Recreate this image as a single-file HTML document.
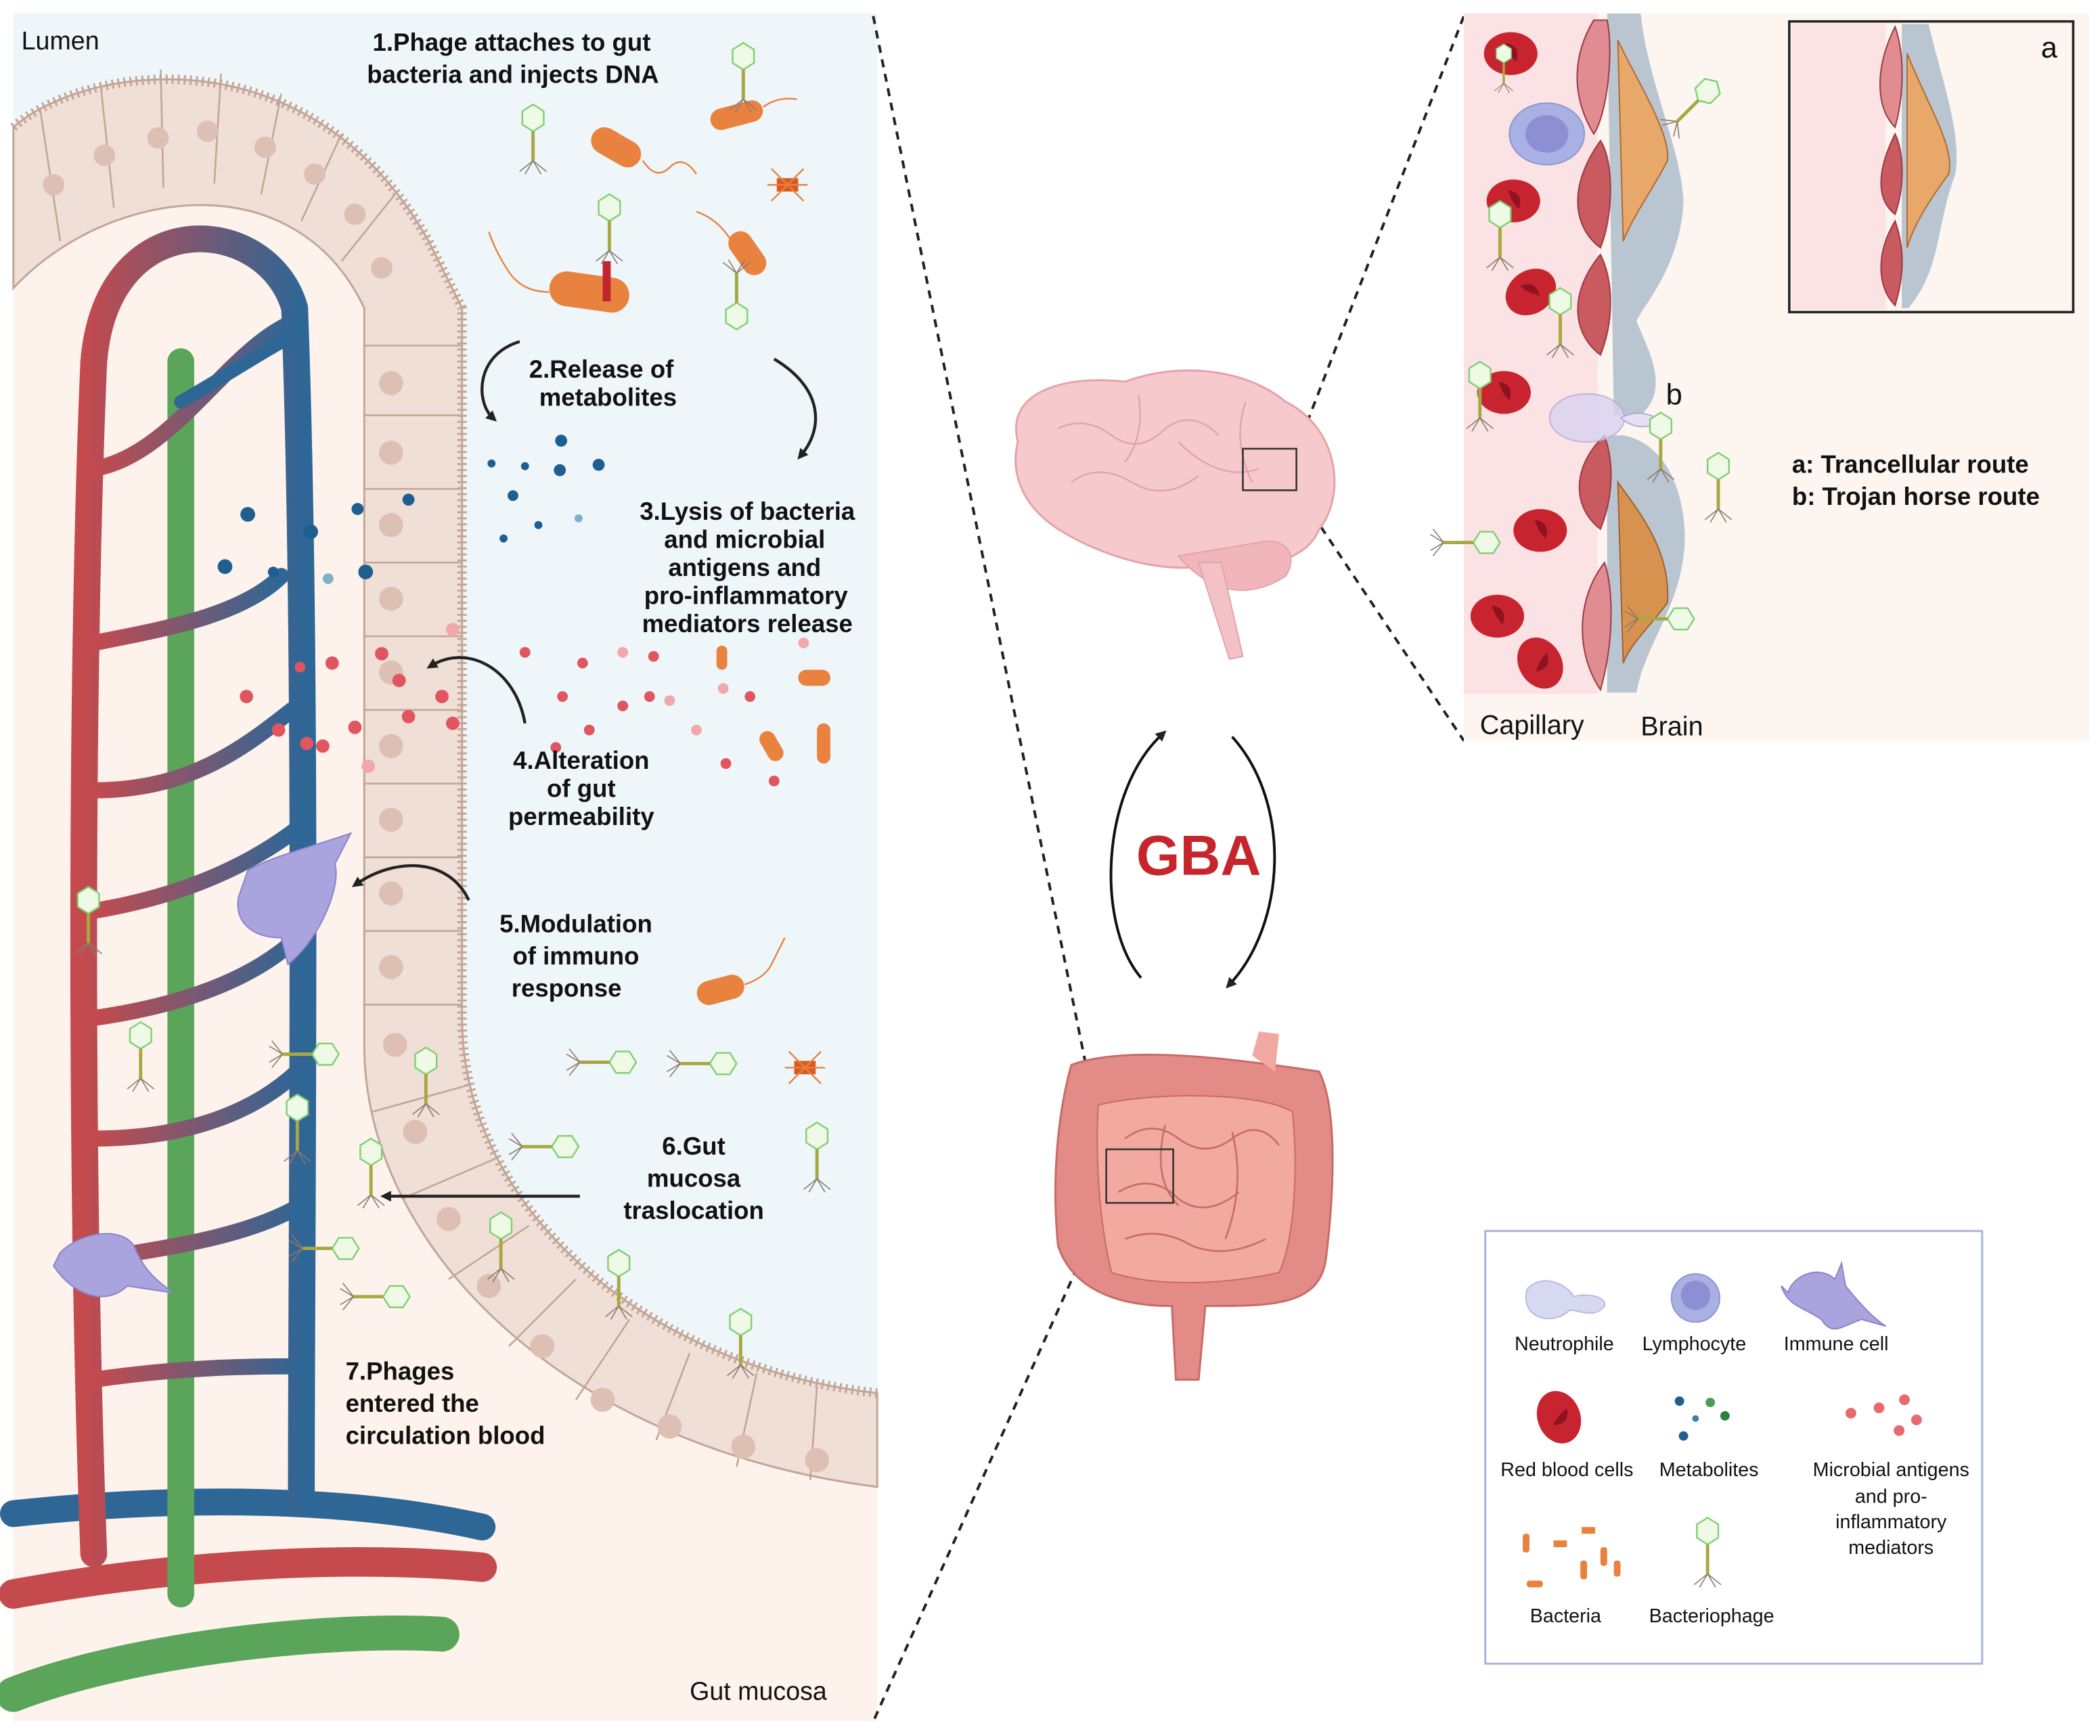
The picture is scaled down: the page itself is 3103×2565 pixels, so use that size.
<!DOCTYPE html>
<html><head><meta charset="utf-8"><style>
html,body{margin:0;padding:0;background:#fff}
svg{display:block}
text{font-family:"Liberation Sans",Arial,sans-serif}
</style></head><body>
<svg width="3103" height="2565" viewBox="0 0 1568 1296" preserveAspectRatio="none" xmlns="http://www.w3.org/2000/svg">
<defs>
<marker id="ah" markerWidth="8" markerHeight="8" refX="4" refY="4" orient="auto" markerUnits="userSpaceOnUse" viewBox="0 0 8 8"><path d="M0,0 L8,4 L0,8 Z" fill="#222"/></marker>
<linearGradient id="rb" x1="0" x2="1"><stop offset="0" stop-color="#c44a4e"/><stop offset="1" stop-color="#2e6696"/></linearGradient>
<g id="ph"><polygon points="0,-10 8,-5 8,5 0,10 -8,5 -8,-5" fill="#eef9e6" stroke="#7fcf72" stroke-width="1.2"/><line x1="0" y1="10" x2="0" y2="32" stroke="#a9a840" stroke-width="2.5"/><path d="M0,32 l-10,8 M0,32 l10,8 M0,32 l-6,10 M0,32 l6,10" stroke="#8a7a6a" stroke-width="0.8" fill="none"/></g>
<g id="rbc"><ellipse rx="20" ry="16" fill="#c8242f"/><path d="M-4,-8 q12,2 8,14 q-6,-6 -8,-14z" fill="#8e1220"/></g>
</defs>

<rect width="1568" height="1296" fill="#fff"/>

<!-- LEFT PANEL -->
<rect x="10" y="10" width="645" height="1275" fill="#fdf3ec"/>
<path d="M10,10 L655,10 L655,1040 C480,1020 345,900 345,760 L345,230 L320,180 C230,20 60,50 10,95 Z" fill="#eef6fa"/>
<!-- epithelium band -->
<path d="M10,95 C60,50 230,20 320,180 L345,230 L345,760 C345,900 480,1020 655,1040 L655,1110 C420,1080 272,930 272,780 L272,230 C220,120 80,140 10,215 Z" fill="#efdfd6" stroke="#c3a596" stroke-width="1.5"/>
<!-- microvilli -->
<path d="M10,95 C60,50 230,20 320,180 L345,230 L345,760 C345,900 480,1020 655,1040" fill="none" stroke="#c3a596" stroke-width="7" stroke-dasharray="1.5 3"/>
<g stroke="#c3a596" stroke-width="1.3">
<line x1="30" y1="82" x2="45" y2="180"/><line x1="75" y1="62" x2="85" y2="155"/><line x1="120" y1="52" x2="122" y2="140"/><line x1="165" y1="55" x2="160" y2="137"/><line x1="210" y1="70" x2="195" y2="145"/><line x1="255" y1="100" x2="225" y2="165"/><line x1="295" y1="145" x2="255" y2="195"/>
</g>
<g stroke="#c3a596" stroke-width="1.3">
<line x1="272" y1="258" x2="345" y2="258"/><line x1="272" y1="310" x2="345" y2="310"/><line x1="272" y1="365" x2="345" y2="365"/><line x1="272" y1="420" x2="345" y2="420"/><line x1="272" y1="475" x2="345" y2="475"/><line x1="272" y1="530" x2="345" y2="530"/><line x1="272" y1="585" x2="345" y2="585"/><line x1="272" y1="640" x2="345" y2="640"/><line x1="272" y1="695" x2="345" y2="695"/><line x1="272" y1="750" x2="345" y2="750"/>
<line x1="278" y1="830" x2="350" y2="810"/><line x1="300" y1="895" x2="370" y2="865"/><line x1="335" y1="955" x2="395" y2="915"/><line x1="380" y1="1005" x2="430" y2="955"/><line x1="430" y1="1045" x2="470" y2="985"/><line x1="490" y1="1075" x2="515" y2="1010"/><line x1="550" y1="1095" x2="565" y2="1025"/><line x1="605" y1="1105" x2="610" y2="1035"/>
</g>
<g fill="#ddbfb3">
<circle cx="40" cy="138" r="8"/><circle cx="78" cy="116" r="8"/><circle cx="118" cy="103" r="8"/><circle cx="155" cy="98" r="8"/><circle cx="198" cy="110" r="8"/><circle cx="235" cy="130" r="8"/><circle cx="265" cy="160" r="8"/><circle cx="285" cy="200" r="8"/>
<circle cx="292" cy="286" r="9"/><circle cx="292" cy="338" r="9"/><circle cx="292" cy="392" r="9"/><circle cx="292" cy="447" r="9"/><circle cx="292" cy="502" r="9"/><circle cx="292" cy="557" r="9"/><circle cx="292" cy="612" r="9"/><circle cx="292" cy="667" r="9"/><circle cx="292" cy="722" r="9"/><circle cx="295" cy="780" r="9"/>
<circle cx="310" cy="845" r="9"/><circle cx="335" cy="910" r="9"/><circle cx="365" cy="960" r="9"/><circle cx="405" cy="1005" r="9"/><circle cx="450" cy="1045" r="9"/><circle cx="500" cy="1065" r="9"/><circle cx="555" cy="1080" r="9"/><circle cx="610" cy="1090" r="9"/>
</g>

<!-- vessels -->
<g fill="none" stroke-linecap="round">
<path d="M10,1190 C120,1170 250,1160 360,1170" stroke="#c44a4e" stroke-width="22"/>
<path d="M10,1130 C150,1115 270,1120 360,1140" stroke="#2e6696" stroke-width="20"/>
<path d="M10,1265 C100,1230 250,1215 330,1220" stroke="#5aa55a" stroke-width="26"/>
<path d="M135,1190 L135,270" stroke="#5aa55a" stroke-width="20"/>
<path d="M70,1160 C60,900 60,500 70,270 C80,150 200,160 220,230 C230,500 225,900 225,1120" stroke="url(#rb)" stroke-width="20"/>
<path d="M70,350 C130,340 170,260 220,240" stroke="url(#rb)" stroke-width="12"/>
<path d="M70,480 C120,470 180,460 210,430" stroke="url(#rb)" stroke-width="12"/>
<path d="M70,590 C140,590 180,560 218,530" stroke="url(#rb)" stroke-width="12"/>
<path d="M70,680 C130,670 180,650 220,620" stroke="url(#rb)" stroke-width="12"/>
<path d="M70,760 C140,750 190,730 222,700" stroke="url(#rb)" stroke-width="12"/>
<path d="M70,850 C140,850 190,830 222,800" stroke="url(#rb)" stroke-width="12"/>
<path d="M70,940 C140,930 190,920 224,900" stroke="url(#rb)" stroke-width="12"/>
<path d="M70,1030 C140,1020 190,1020 225,1020" stroke="url(#rb)" stroke-width="12"/>
<path d="M135,300 C170,280 200,260 220,250" stroke="#2e6696" stroke-width="10"/>
</g>
<!-- immune cells -->
<g fill="#a9a3de" stroke="#8a84c8" stroke-width="1">
<path d="M185,650 C200,640 240,630 262,622 L250,645 C255,660 240,700 215,720 L210,700 C190,700 175,690 178,670 Z"/>
<path d="M45,935 C60,920 90,915 100,930 C110,955 125,960 128,965 L95,960 C80,975 55,968 40,945Z"/>
</g>
<!-- metabolites -->
<g fill="#1f5f8f">
<circle cx="419" cy="329" r="4.5"/><circle cx="447" cy="347" r="4.5"/><circle cx="418" cy="351" r="4.5"/><circle cx="383" cy="370" r="4"/><circle cx="367" cy="346" r="3"/><circle cx="185" cy="384" r="5.5"/><circle cx="232" cy="397" r="5.5"/><circle cx="168" cy="423" r="5.5"/><circle cx="273" cy="427" r="5.5"/><circle cx="305" cy="373" r="4.5"/><circle cx="267" cy="380" r="4.5"/><circle cx="392" cy="348" r="3"/><circle cx="402" cy="392" r="3"/><circle cx="376" cy="402" r="3"/><circle cx="204" cy="427" r="4"/>
</g>
<g fill="#7fb0c8"><circle cx="432" cy="387" r="3"/><circle cx="245" cy="432" r="4"/></g>
<!-- antigens -->
<g fill="#e05560">
<circle cx="184" cy="520" r="5"/><circle cx="229" cy="555" r="5"/><circle cx="208" cy="545" r="5"/><circle cx="265" cy="543" r="5"/><circle cx="241" cy="557" r="5"/><circle cx="298" cy="508" r="5"/><circle cx="330" cy="520" r="5"/><circle cx="338" cy="540" r="5"/><circle cx="248" cy="495" r="5"/><circle cx="285" cy="488" r="5"/><circle cx="224" cy="498" r="4"/><circle cx="305" cy="535" r="5"/><circle cx="420" cy="520" r="4"/><circle cx="440" cy="545" r="4"/><circle cx="465" cy="527" r="4"/><circle cx="435" cy="495" r="4"/><circle cx="488" cy="490" r="4"/><circle cx="485" cy="520" r="4"/><circle cx="415" cy="558" r="4"/><circle cx="542" cy="570" r="4"/><circle cx="578" cy="583" r="4"/><circle cx="560" cy="520" r="4"/><circle cx="392" cy="487" r="4"/>
</g>
<g fill="#f0a8ac"><circle cx="275" cy="572" r="5"/><circle cx="520" cy="545" r="4"/><circle cx="540" cy="514" r="4"/><circle cx="465" cy="487" r="4"/><circle cx="500" cy="523" r="4"/><circle cx="600" cy="480" r="4"/><circle cx="338" cy="470" r="5"/></g>
<!-- bacteria -->
<g fill="#e8823e">
<rect x="440" y="100" width="40" height="20" rx="10" transform="rotate(30 460 110)"/>
<rect x="530" y="78" width="40" height="16" rx="8" transform="rotate(-15 550 86)"/>
<rect x="410" y="205" width="60" height="26" rx="13" transform="rotate(8 440 218)"/>
<rect x="540" y="180" width="36" height="18" rx="9" transform="rotate(55 558 189)"/>
<rect x="520" y="730" width="36" height="18" rx="9" transform="rotate(-15 538 739)"/>
<rect x="580" y="133" width="16" height="10" fill="#d85a20"/>
<rect x="593" y="792" width="16" height="10" fill="#d85a20"/>
<rect x="596" y="500" width="24" height="12" rx="6"/><rect x="610" y="540" width="10" height="30" rx="5"/><rect x="570" y="545" width="12" height="24" rx="6" transform="rotate(-30 576 557)"/><rect x="535" y="482" width="8" height="18" rx="4"/>
</g>
<g fill="none" stroke="#e8823e" stroke-width="1.2">
<path d="M480,120 q10,15 20,5 q10,-10 20,5"/><path d="M570,80 q10,-8 25,-6"/><path d="M410,218 q-20,0 -30,-15 q-10,-15 -15,-30"/><path d="M545,178 q-10,-15 -25,-20"/><path d="M556,735 q15,-5 20,-15 q5,-10 10,-20"/>
<path d="M588,138 l-12,-12 M588,138 l12,-12 M588,138 l-12,12 M588,138 l12,12 M588,138 l-15,0 M588,138 l15,0"/>
<path d="M601,797 l-12,-12 M601,797 l12,-12 M601,797 l-12,12 M601,797 l12,12 M601,797 l-15,0 M601,797 l15,0"/>
</g>
<rect x="450" y="195" width="6" height="30" fill="#c02530"/>
<!-- phages -->
<use href="#ph" x="555" y="42"/><use href="#ph" x="398" y="88"/><use href="#ph" x="455" y="155"/><use href="#ph" x="550" y="236" transform="rotate(180 550 236)"/>
<use href="#ph" x="66" y="672"/><use href="#ph" x="105" y="773"/><use href="#ph" x="222" y="827"/><use href="#ph" x="318" y="792"/><use href="#ph" x="277" y="860"/><use href="#ph" x="374" y="915"/><use href="#ph" x="462" y="943"/><use href="#ph" x="553" y="987"/><use href="#ph" x="610" y="848"/>
<use href="#ph" x="465" y="793" transform="rotate(90 465 793)"/><use href="#ph" x="540" y="794" transform="rotate(90 540 794)"/><use href="#ph" x="422" y="856" transform="rotate(90 422 856)"/><use href="#ph" x="243" y="787" transform="rotate(90 243 787)"/><use href="#ph" x="258" y="932" transform="rotate(90 258 932)"/><use href="#ph" x="296" y="968" transform="rotate(90 296 968)"/>
<!-- arrows -->
<g fill="none" stroke="#222" stroke-width="2.2" marker-end="url(#ah)">
<path d="M388,255 C355,265 355,300 368,312"/>
<path d="M578,268 C615,290 615,320 598,340"/>
<path d="M392,540 C385,500 350,480 322,497"/>
<path d="M350,672 C335,640 295,640 266,660"/>
<path d="M433,893 L288,893"/>
</g>
<!-- labels -->
<g font-weight="bold" font-size="18.5" fill="#111" text-anchor="middle">
<text x="382" y="38">1.Phage attaches to gut</text><text x="383" y="62">bacteria and injects DNA</text>
<text x="449" y="282">2.Release of</text><text x="454" y="303">metabolites</text>
<text x="558" y="388">3.Lysis of bacteria</text><text x="556" y="409">and microbial</text><text x="556" y="430">antigens and</text><text x="557" y="451">pro-inflammatory</text><text x="558" y="472">mediators release</text>
<text x="434" y="574">4.Alteration</text><text x="434" y="595">of gut</text><text x="434" y="616">permeability</text>
<text x="430" y="696">5.Modulation</text><text x="430" y="720">of immuno</text><text x="423" y="744">response</text>
<text x="518" y="862">6.Gut</text><text x="518" y="886">mucosa</text><text x="518" y="910">traslocation</text>
</g>
<g font-weight="bold" font-size="18.5" fill="#111">
<text x="258" y="1030">7.Phages</text><text x="258" y="1054">entered the</text><text x="258" y="1078">circulation blood</text>
</g>
<text x="16" y="37" font-size="19" fill="#111">Lumen</text>
<text x="515" y="1269" font-size="19" fill="#111">Gut mucosa</text>

<!-- dashed connectors -->
<g stroke="#222" stroke-width="2" stroke-dasharray="6 5" fill="none">
<line x1="652" y1="12" x2="826" y2="870"/>
<line x1="653" y1="1283" x2="826" y2="898"/>
<line x1="968" y1="336" x2="1093" y2="12"/>
<line x1="968" y1="366" x2="1093" y2="553"/>
<line x1="1200" y1="103" x2="1336" y2="16"/>
<line x1="1200" y1="103" x2="1336" y2="232"/>
</g>

<!-- BRAIN -->
<path d="M760,330 C750,290 800,280 840,285 C880,270 930,275 960,300 C1000,320 1005,370 985,395 C975,420 940,425 910,420 C880,430 830,420 790,395 C760,375 755,350 760,330Z" fill="#f6c9cc" stroke="#e3a3a9" stroke-width="1.5"/>
<path d="M880,415 C900,440 930,450 960,430 C970,415 960,400 940,405 Z" fill="#f0b6bb" stroke="#e3a3a9"/>
<path d="M895,420 L918,492 L928,490 L912,420Z" fill="#f3c2c6" stroke="#e3a3a9"/>
<g fill="none" stroke="#e3a3a9" stroke-width="1.2"><path d="M790,320 q20,-10 40,5 q20,15 40,-5 q20,-15 40,5"/><path d="M800,360 q20,-15 45,0 q25,15 50,-5"/><path d="M850,295 q5,30 -10,50"/><path d="M930,300 q-10,30 5,60"/><path d="M880,330 q30,30 60,20"/></g>
<rect x="928" y="335" width="40" height="31" fill="none" stroke="#333" stroke-width="1.3"/>

<!-- GBA -->
<path d="M852,730 C818,690 822,590 868,548" fill="none" stroke="#111" stroke-width="2" marker-end="url(#ah)"/>
<path d="M920,550 C965,600 960,690 918,735" fill="none" stroke="#111" stroke-width="2" marker-end="url(#ah)"/>
<text x="895" y="653" font-size="42" font-weight="bold" fill="#c7252c" text-anchor="middle">GBA</text>

<!-- INTESTINE -->
<path d="M800,795 C840,780 920,790 985,800 C1000,830 995,900 990,940 C985,975 950,975 900,975 L895,1030 L878,1030 L875,975 C830,975 800,960 790,930 C785,880 790,830 800,795Z" fill="#e38b86" stroke="#c86b68" stroke-width="1.5"/>
<path d="M820,825 C860,815 940,815 965,830 C970,880 965,930 955,950 C910,960 860,960 830,950 C820,910 818,860 820,825Z" fill="#f2a9a0" stroke="#c86b68"/>
<path d="M935,788 L940,770 L955,772 L952,800Z" fill="#f0a8a0"/>
<g fill="none" stroke="#c86b68" stroke-width="1.3"><path d="M840,850 q20,-15 40,0 q20,15 40,0 q20,-15 35,5"/><path d="M835,890 q25,-15 45,5 q20,15 45,-5"/><path d="M840,925 q25,-10 50,5 q25,10 55,-5"/><path d="M870,840 q-10,40 10,60"/><path d="M920,845 q10,40 -5,80"/></g>
<rect x="826" y="858" width="50" height="40" fill="none" stroke="#333" stroke-width="1.3"/>

<!-- RIGHT PANEL -->
<rect x="1093" y="10" width="467" height="543" fill="#fdf5f0"/>
<rect x="1093" y="10" width="100" height="508" fill="#fbe3e5"/>
<path d="M1200,10 L1225,10 C1230,60 1255,110 1257,150 C1255,200 1225,230 1222,240 C1230,260 1248,290 1225,310 L1205,310 Z" fill="#b9c6d1"/>
<path d="M1200,325 L1212,325 C1240,330 1257,360 1258,400 C1258,450 1228,480 1222,517 L1200,517 Z" fill="#b9c6d1"/>
<path d="M1208,30 C1222,60 1248,100 1245,120 C1235,140 1220,160 1212,180 Z" fill="#e8a86a" stroke="#b06a30"/>
<path d="M1208,360 C1222,380 1248,410 1245,450 C1230,470 1218,480 1212,495 Z" fill="#d89250" stroke="#a06030"/>
<g fill="#c85a60" stroke="#9a3a40" stroke-width="1">
<path d="M1190,15 C1175,40 1172,70 1190,100 C1200,85 1205,40 1200,15Z" fill="#e08c90"/>
<path d="M1195,105 C1170,140 1175,170 1195,185 C1205,160 1205,120 1195,105Z"/>
<path d="M1195,190 C1170,220 1175,250 1195,265 C1205,240 1205,210 1195,190Z"/>
<path d="M1198,325 C1172,350 1175,380 1195,395 C1205,370 1205,345 1198,325Z"/>
<path d="M1198,420 C1175,450 1178,490 1195,515 C1205,480 1205,440 1198,420Z" fill="#e08c90"/>
</g>
<ellipse cx="1155" cy="100" rx="28" ry="23" fill="#a9b0e3" stroke="#8e95d0"/><ellipse cx="1155" cy="100" rx="16" ry="14" fill="#8d8fd2"/>
<use href="#rbc" x="1128" y="40"/><use href="#rbc" x="1130" y="150"/><use href="#rbc" x="1143" y="218" transform="rotate(-35 1143 218)"/><use href="#rbc" x="1123" y="293"/><use href="#rbc" x="1150" y="396"/><use href="#rbc" x="1118" y="460"/><use href="#rbc" x="1150" y="495" transform="rotate(60 1150 495)"/>
<ellipse cx="1185" cy="312" rx="28" ry="18" fill="#d9d2f0" opacity="0.8" stroke="#b0a8dc"/>
<path d="M1210,312 q15,-8 30,2 q-15,10 -30,-2" fill="#e6e0f5" stroke="#b0a8dc"/>
<use href="#ph" x="1123" y="40" transform="scale(0.7) translate(481 17)"/>
<use href="#ph" x="1275" y="68" transform="rotate(45 1275 68) scale(1)"/><use href="#ph" x="1283" y="348"/><use href="#ph" x="1120" y="160"/><use href="#ph" x="1165" y="225"/><use href="#ph" x="1105" y="280"/><use href="#ph" x="1255" y="462" transform="rotate(90 1255 462)"/><use href="#ph" x="1110" y="405" transform="rotate(90 1110 405)"/><use href="#ph" x="1240" y="318"/>
<!-- inset -->
<rect x="1336" y="16" width="212" height="217" fill="#fdf5f0" stroke="#222" stroke-width="1.8"/>
<rect x="1338" y="18" width="70" height="213" fill="#fbe3e5"/>
<path d="M1420,18 L1440,18 C1450,60 1465,100 1460,130 C1445,170 1450,200 1425,230 L1420,230Z" fill="#b9c6d1"/>
<path d="M1424,40 C1440,80 1460,110 1455,130 C1440,150 1428,170 1424,185 Z" fill="#e8a86a" stroke="#b06a30"/>
<g fill="#c85a60" stroke="#9a3a40"><path d="M1415,20 C1400,50 1400,80 1415,95 C1422,70 1422,40 1415,20Z" fill="#e08c90"/><path d="M1415,100 C1400,130 1402,150 1415,160 C1422,140 1422,115 1415,100Z"/><path d="M1415,165 C1400,190 1402,215 1415,228 C1422,205 1422,185 1415,165Z"/></g>
<text x="1530" y="43" font-size="22" fill="#111" text-anchor="middle">a</text>
<text x="1250" y="302" font-size="22" fill="#111" text-anchor="middle">b</text>
<text x="1338" y="353" font-size="18.5" font-weight="bold" fill="#111">a: Trancellular route</text>
<text x="1338" y="377" font-size="18.5" font-weight="bold" fill="#111">b: Trojan horse route</text>
<text x="1105" y="548" font-size="20" fill="#111">Capillary</text>
<text x="1225" y="549" font-size="20" fill="#111">Brain</text>

<!-- LEGEND -->
<rect x="1109" y="919" width="371" height="323" fill="#fff" stroke="#a8b3d8" stroke-width="1.5"/>
<path d="M1140,963 C1150,950 1170,958 1175,968 C1185,965 1200,968 1198,975 C1190,985 1180,978 1172,978 C1160,990 1135,985 1140,963Z" fill="#d6d9f0" stroke="#b6bbe0"/>
<ellipse cx="1266" cy="969" rx="18" ry="18" fill="#a9b0e3" stroke="#8e95d0"/><ellipse cx="1266" cy="967" rx="11" ry="11" fill="#8d8fd2"/>
<path d="M1335,965 C1340,950 1360,945 1370,955 L1375,943 L1378,960 C1390,975 1400,985 1408,990 L1390,985 C1375,990 1368,998 1360,985 C1345,975 1335,975 1330,960Z" fill="#a9a3de" stroke="#8a84c8"/>
<use href="#rbc" x="1164" y="1058" transform="rotate(70 1164 1058)"/>
<g><circle cx="1254" cy="1046" r="3.5" fill="#1f5f8f"/><circle cx="1277" cy="1047" r="3.5" fill="#4a9a5a"/><circle cx="1266" cy="1059" r="2.5" fill="#3a80b0"/><circle cx="1288" cy="1057" r="3.5" fill="#2a8040"/><circle cx="1257" cy="1072" r="3.5" fill="#1f5f8f"/></g>
<g fill="#e86a70"><circle cx="1382" cy="1055" r="4"/><circle cx="1403" cy="1051" r="4"/><circle cx="1422" cy="1045" r="4"/><circle cx="1431" cy="1060" r="4"/><circle cx="1418" cy="1068" r="4"/></g>
<g fill="#e8823e"><rect x="1137" y="1145" width="5" height="14" rx="2"/><rect x="1160" y="1150" width="10" height="5"/><rect x="1181" y="1140" width="10" height="5"/><rect x="1195" y="1155" width="5" height="14" rx="2"/><rect x="1180" y="1165" width="5" height="14" rx="2"/><rect x="1140" y="1180" width="12" height="5" rx="2"/><rect x="1205" y="1165" width="5" height="12" rx="2"/></g>
<use href="#ph" x="1275" y="1143"/>
<g font-size="14.5" fill="#111" text-anchor="middle">
<text x="1168" y="1008">Neutrophile</text><text x="1265" y="1008">Lymphocyte</text><text x="1371" y="1008">Immune cell</text>
<text x="1170" y="1102">Red blood cells</text><text x="1276" y="1102">Metabolites</text><text x="1412" y="1102">Microbial antigens</text>
<text x="1412" y="1122">and pro-</text><text x="1412" y="1141">inflammatory</text><text x="1412" y="1160">mediators</text>
<text x="1169" y="1211">Bacteria</text><text x="1278" y="1211">Bacteriophage</text>
</g>
</svg>
</body></html>
